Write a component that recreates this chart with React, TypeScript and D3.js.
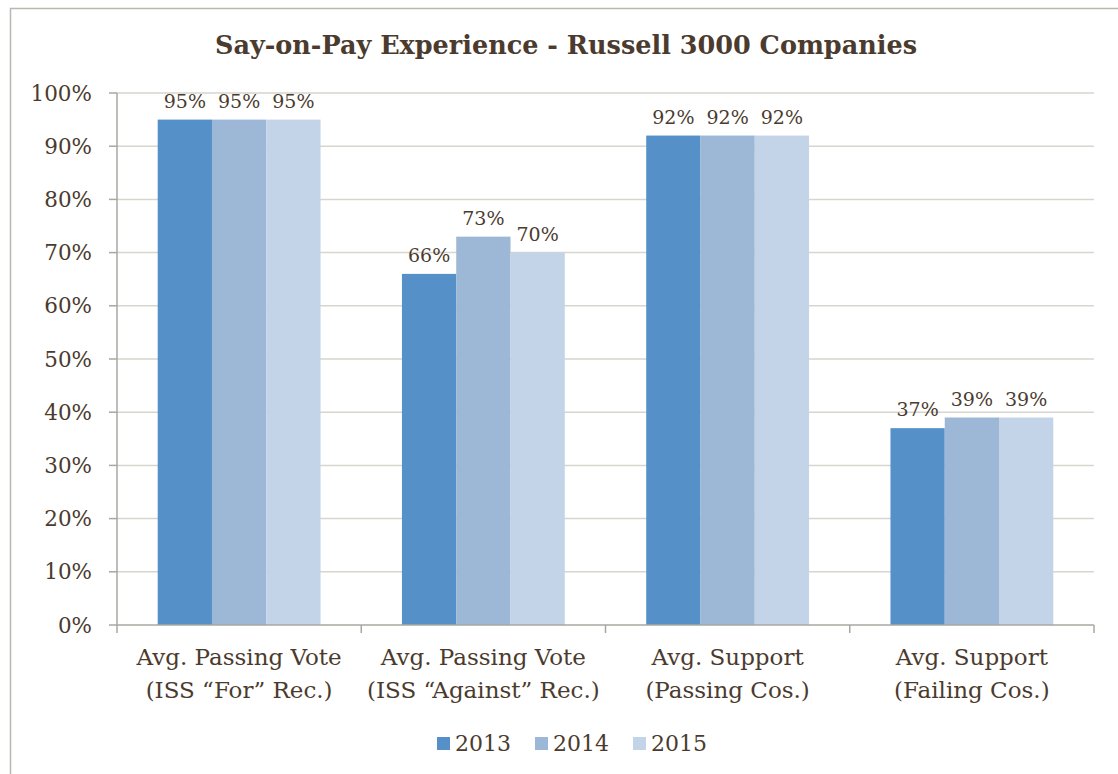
import React from "react";
import * as d3 from "d3";

const categories = [
  ["Avg. Passing Vote", "(ISS \u201cFor\u201d Rec.)"],
  ["Avg. Passing Vote", "(ISS \u201cAgainst\u201d Rec.)"],
  ["Avg. Support", "(Passing Cos.)"],
  ["Avg. Support", "(Failing Cos.)"],
];
const seriesNames = ["2013", "2014", "2015"];
const v2013 = [95, 66, 92, 37];
const v2014 = [95, 73, 92, 39];
const v2015 = [95, 70, 92, 39];
const yTicks = [0, 10, 20, 30, 40, 50, 60, 70, 80, 90, 100];
const colors = ["#5591C8", "#9DB7D6", "#C4D4E8"];

const W = 1118, H = 774;
const TEXT = "#4B3B2E";
const FONT = "Georgia, 'DejaVu Serif', serif";

export default function App() {
  const series = [v2013, v2014, v2015];
  const x0 = d3.scaleBand().domain(categories.map((_, i) => String(i))).range([117, 1094]).paddingInner(0).paddingOuter(0);
  const bw = x0.bandwidth();
  const barW = bw / 4.5;
  const y = d3.scaleLinear().domain([0, 100]).range([625, 93]);

  return (
    <svg width={W} height={H} style={{ position: "absolute", left: 0, top: 0, background: "#fff" }} fontFamily={FONT}>
      <rect x={10.5} y={8.5} width={1120} height={800} fill="#fff" stroke="#B8B8B0" strokeWidth={1.5} />
      <text x={566} y={54} textAnchor="middle" fontSize={25.5} fontWeight="bold" fill={TEXT}>
        Say-on-Pay Experience - Russell 3000 Companies
      </text>
      {yTicks.map((t) => (
        <g key={t}>
          {t > 0 && <line x1={117} x2={1094} y1={y(t)} y2={y(t)} stroke="#D6D6CE" strokeWidth={1.5} />}
          <line x1={109} x2={117} y1={y(t)} y2={y(t)} stroke="#A8A8A0" strokeWidth={1.5} />
          <text x={92} y={y(t)} dy="0.35em" textAnchor="end" fontSize={21.5} fill={TEXT}>{t}%</text>
        </g>
      ))}
      <line x1={117} x2={117} y1={y(100)} y2={y(0)} stroke="#A8A8A0" strokeWidth={1.5} />
      {categories.map((c, i) => {
        const gx = x0(String(i))!;
        return (
          <g key={i}>
            {series.map((s, j) => {
              const bx = gx + barW * 0.75 + j * barW;
              return (
                <g key={j}>
                  <rect x={bx} y={y(s[i])} width={barW} height={y(0) - y(s[i])} fill={colors[j]} />
                  <text x={bx + barW / 2} y={y(s[i]) - 12} textAnchor="middle" fontSize={19} fill={TEXT}>{s[i]}%</text>
                </g>
              );
            })}
            <text x={gx + bw / 2} y={665} textAnchor="middle" fontSize={23} fill={TEXT}>{c[0]}</text>
            <text x={gx + bw / 2} y={698} textAnchor="middle" fontSize={23} fill={TEXT}>{c[1]}</text>
          </g>
        );
      })}
      <line x1={117} x2={1094} y1={y(0)} y2={y(0)} stroke="#A8A8A0" strokeWidth={1.5} />
      {d3.range(5).map((k) => {
        const tx = 117 + k * bw;
        return <line key={k} x1={tx} x2={tx} y1={y(0)} y2={y(0) + 8} stroke="#A8A8A0" strokeWidth={1.5} />;
      })}
      {seriesNames.map((n, j) => {
        const lx = 437 + j * 98;
        return (
          <g key={n}>
            <rect x={lx} y={737} width={13} height={13} fill={colors[j]} />
            <text x={lx + 18} y={751} fontSize={22} fill={TEXT}>{n}</text>
          </g>
        );
      })}
    </svg>
  );
}
